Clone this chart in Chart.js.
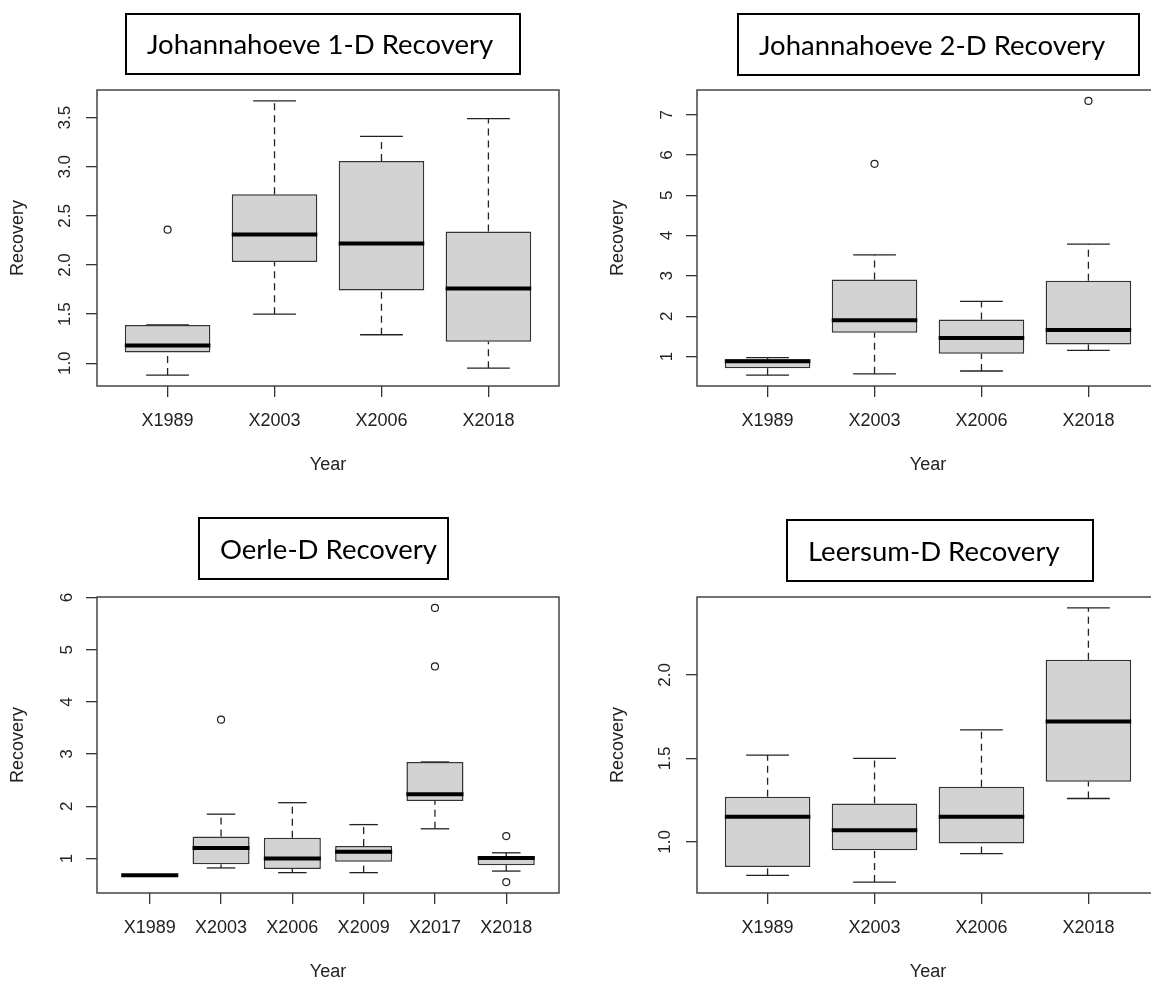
<!DOCTYPE html>
<html>
<head>
<meta charset="utf-8">
<script src="https://cdn.jsdelivr.net/npm/chart.js@4.4.1/dist/chart.umd.min.js"></script>
<style>
  html, body { margin: 0; padding: 0; background: #fff; overflow: hidden; }
  body { position: relative; width: 1151px; height: 981px; }
  canvas { position: absolute; }
  .title {
    position: absolute; box-sizing: border-box; border: 2px solid #000;
    font-family: Lato, "Open Sans", sans-serif; font-size: 27.5px; color: #000;
    white-space: nowrap; padding-left: 20px;
  }
</style>
</head>
<body>
<canvas id="c1" width="575" height="490" style="left:0;top:0"></canvas>
<canvas id="c2" width="575" height="490" style="left:600px;top:0"></canvas>
<canvas id="c3" width="575" height="490" style="left:0;top:507px"></canvas>
<canvas id="c4" width="575" height="490" style="left:600px;top:507px"></canvas>

<div class="title" style="left:125px;top:13px;width:396px;height:62px;line-height:58px;">Johannahoeve 1-D Recovery</div>
<div class="title" style="left:737px;top:13px;width:403px;height:63px;line-height:59px;">Johannahoeve 2-D Recovery</div>
<div class="title" style="left:198px;top:517px;width:251px;height:63px;line-height:59px;">Oerle-D Recovery</div>
<div class="title" style="left:786px;top:519px;width:308px;height:63px;line-height:59px;">Leersum-D Recovery</div>

<script>
// Johannahoeve 1-D
const years1 = ["X1989", "X2003", "X2006", "X2018"];
const low1 = [0.88, 1.50, 1.29, 0.95];
const q1_1 = [1.11, 2.03, 1.74, 1.22];
const med1 = [1.18, 2.31, 2.22, 1.76];
const q3_1 = [1.39, 2.72, 3.06, 2.34];
const high1 = [1.39, 3.67, 3.31, 3.49];
const out1 = [[2.36], [], [], []];
const yTicks1 = [1.0, 1.5, 2.0, 2.5, 3.0, 3.5];

// Johannahoeve 2-D
const years2 = ["X1989", "X2003", "X2006", "X2018"];
const low2 = [0.54, 0.57, 0.64, 1.15];
const q1_2 = [0.71, 1.59, 1.07, 1.30];
const med2 = [0.88, 1.90, 1.46, 1.66];
const q3_2 = [0.93, 2.91, 1.92, 2.88];
const high2 = [0.97, 3.52, 2.37, 3.79];
const out2 = [[], [5.78], [], [7.34]];
const yTicks2 = [1, 2, 3, 4, 5, 6, 7];

// Oerle-D
const years3 = ["X1989", "X2003", "X2006", "X2009", "X2017", "X2018"];
const low3 = [0.68, 0.82, 0.73, 0.73, 1.57, 0.76];
const q1_3 = [0.68, 0.89, 0.80, 0.94, 2.10, 0.87];
const med3 = [0.68, 1.20, 1.00, 1.13, 2.23, 1.01];
const q3_3 = [0.68, 1.42, 1.40, 1.24, 2.85, 1.04];
const high3 = [0.68, 1.85, 2.07, 1.65, 2.85, 1.11];
const out3 = [[], [3.66], [], [], [4.68, 5.80], [1.43, 0.55]];
const yTicks3 = [1, 2, 3, 4, 5, 6];

// Leersum-D
const years4 = ["X1989", "X2003", "X2006", "X2018"];
const low4 = [0.80, 0.76, 0.93, 1.26];
const q1_4 = [0.85, 0.95, 0.99, 1.36];
const med4 = [1.15, 1.07, 1.15, 1.72];
const q3_4 = [1.27, 1.23, 1.33, 2.09];
const high4 = [1.52, 1.50, 1.67, 2.40];
const out4 = [[], [], [], []];
const yTicks4 = [1.0, 1.5, 2.0];

const FAMILY = '"Liberation Sans", Arial, sans-serif';
const INK = '#222';

function seg(x0, y0, x1, y1, extra) {
  return Object.assign({
    type: 'line',
    data: [{ x: x0, y: y0 }, { x: x1, y: y1 }],
    borderColor: INK, borderWidth: 1.3, pointRadius: 0, fill: false, order: 3
  }, extra);
}

function buildDatasets(cats, lo, q1, med, q3, hi, out) {
  const ds = [];
  cats.forEach((c, i) => {
    const x = i + 1;
    ds.push(seg(x, lo[i], x, q1[i], { borderDash: [7, 5] }));
    ds.push(seg(x, q3[i], x, hi[i], { borderDash: [7, 5] }));
    ds.push(seg(x - 0.2, lo[i], x + 0.2, lo[i]));
    ds.push(seg(x - 0.2, hi[i], x + 0.2, hi[i]));
    ds.push(seg(x - 0.4, med[i], x + 0.4, med[i], { borderColor: '#000', borderWidth: 4, borderCapStyle: 'butt', order: 1 }));
  });
  // boxes
  ds.push({
    type: 'bar',
    data: cats.map((c, i) => ({ x: i + 1, y: [q1[i], q3[i]] })),
    backgroundColor: '#d3d3d3', borderColor: '#333', borderWidth: 1.5,
    borderSkipped: false, barPercentage: 0.8, categoryPercentage: 1, order: 2
  });
  // outliers
  ds.push({
    type: 'scatter',
    data: out.flatMap((vals, i) => vals.map(v => ({ x: i + 1, y: v }))),
    pointRadius: 3.5, pointBorderWidth: 1.2, pointBorderColor: INK,
    pointBackgroundColor: 'rgba(0,0,0,0)', order: 0
  });
  return ds;
}

const framePlugin = {
  id: 'frame',
  afterDraw(chart) {
    const { ctx, chartArea: a } = chart;
    ctx.save();
    ctx.strokeStyle = '#444';
    ctx.lineWidth = 1.5;
    ctx.strokeRect(a.left, a.top, a.right - a.left, a.bottom - a.top);
    ctx.restore();
  }
};

function drawPanel(id, cats, lo, q1, med, q3, hi, out, yTicks, dec, tickPad) {
  const all = lo.concat(hi, out.flat());
  const dMin = Math.min(...all), dMax = Math.max(...all);
  const ext = (dMax - dMin) * 0.04;
  const n = cats.length;
  new Chart(document.getElementById(id), {
    type: 'scatter',
    data: { datasets: buildDatasets(cats, lo, q1, med, q3, hi, out) },
    plugins: [framePlugin],
    options: {
      responsive: false, animation: false, devicePixelRatio: 1, events: [],
      layout: { padding: { left: 0, top: 90, right: 16, bottom: 0 } },
      plugins: { legend: { display: false }, tooltip: { enabled: false } },
      scales: {
        x: {
          type: 'linear', min: 0.5 - n * 0.04, max: n + 0.5 + n * 0.04, offset: false,
          afterBuildTicks: s => { s.ticks = cats.map((c, i) => ({ value: i + 1 })); },
          afterFit: s => { s.height = 104; },
          ticks: { autoSkip: false, maxRotation: 0, padding: 13, color: INK, font: { family: FAMILY, size: 18 },
                   callback: v => cats[v - 1] },
          grid: { offset: false, drawOnChartArea: false, tickLength: 11, color: '#333', lineWidth: 1.3 },
          border: { display: false },
          title: { display: true, text: 'Year', color: INK, font: { family: FAMILY, size: 18 }, padding: { top: 0, bottom: 14 } }
        },
        y: {
          type: 'linear', min: dMin - ext, max: dMax + ext,
          afterBuildTicks: s => { s.ticks = yTicks.map(v => ({ value: v })); },
          afterFit: s => { s.width = 97; },
          ticks: { autoSkip: false, minRotation: 90, maxRotation: 90, crossAlign: 'center', padding: tickPad,
                   color: INK, font: { family: FAMILY, size: 17 }, callback: v => v.toFixed(dec) },
          grid: { offset: false, drawOnChartArea: false, tickLength: 11, color: '#333', lineWidth: 1.3 },
          border: { display: false },
          title: { display: true, text: 'Recovery', color: INK, font: { family: FAMILY, size: 18 }, padding: { top: 7, bottom: 0 } }
        }
      }
    }
  });
}

drawPanel('c1', years1, low1, q1_1, med1, q3_1, high1, out1, yTicks1, 1, 9);
drawPanel('c2', years2, low2, q1_2, med2, q3_2, high2, out2, yTicks2, 0, 14);
drawPanel('c3', years3, low3, q1_3, med3, q3_3, high3, out3, yTicks3, 0, 14);
drawPanel('c4', years4, low4, q1_4, med4, q3_4, high4, out4, yTicks4, 1, 9);
</script>
</body>
</html>
